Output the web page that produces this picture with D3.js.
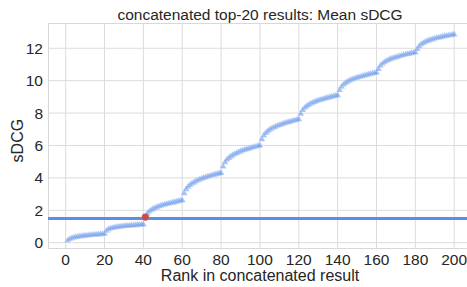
<!DOCTYPE html>
<html>
<head>
<meta charset="utf-8">
<script src="https://cdn.jsdelivr.net/npm/d3@7"></script>
<style>
  body { margin: 0; background: #fff; }
  text { font-family: "Liberation Sans", Arial, sans-serif; fill: #262626; }
</style>
</head>
<body>
<div id="viz"></div>
<script>

/* mean sDCG over the concatenated top-20 lists (10 blocks of 20 ranks) */

const block1 = [0.13, 0.22, 0.27, 0.31, 0.34, 0.36, 0.38, 0.40, 0.42, 0.43, 0.44, 0.46, 0.47, 0.48, 0.49, 0.50, 0.51, 0.52, 0.53, 0.55];
const block2 = [0.74, 0.82, 0.87, 0.90, 0.93, 0.95, 0.97, 0.99, 1.00, 1.02, 1.03, 1.04, 1.05, 1.06, 1.07, 1.08, 1.09, 1.10, 1.11, 1.12];
const block3 = [1.58, 1.80, 1.92, 2.01, 2.08, 2.14, 2.19, 2.24, 2.28, 2.32, 2.35, 2.38, 2.41, 2.44, 2.47, 2.50, 2.53, 2.56, 2.59, 2.62];
const block4 = [3.05, 3.30, 3.45, 3.56, 3.65, 3.72, 3.79, 3.85, 3.90, 3.95, 3.99, 4.03, 4.07, 4.11, 4.14, 4.18, 4.21, 4.24, 4.27, 4.30];
const block5 = [4.70, 4.96, 5.12, 5.23, 5.32, 5.40, 5.47, 5.53, 5.58, 5.63, 5.68, 5.72, 5.76, 5.80, 5.83, 5.87, 5.90, 5.93, 5.97, 6.00];
const block6 = [6.38, 6.62, 6.77, 6.88, 6.97, 7.04, 7.10, 7.16, 7.21, 7.26, 7.30, 7.34, 7.38, 7.42, 7.45, 7.48, 7.52, 7.55, 7.58, 7.62];
const block7 = [7.95, 8.18, 8.32, 8.42, 8.50, 8.57, 8.63, 8.68, 8.73, 8.77, 8.81, 8.85, 8.88, 8.92, 8.95, 8.98, 9.01, 9.04, 9.07, 9.10];
const block8 = [9.42, 9.63, 9.76, 9.86, 9.93, 10.00, 10.05, 10.10, 10.14, 10.18, 10.22, 10.25, 10.29, 10.32, 10.35, 10.38, 10.41, 10.44, 10.47, 10.50];
const block9 = [10.72, 10.92, 11.04, 11.13, 11.21, 11.27, 11.32, 11.37, 11.41, 11.45, 11.48, 11.52, 11.55, 11.58, 11.61, 11.64, 11.66, 11.69, 11.72, 11.75];
const block10 = [11.95, 12.13, 12.24, 12.32, 12.38, 12.44, 12.48, 12.53, 12.56, 12.60, 12.63, 12.66, 12.68, 12.71, 12.74, 12.76, 12.78, 12.80, 12.83, 12.85];

const blocks = [block1, block2, block3, block4, block5, block6, block7, block8, block9, block10];

const threshold = 1.5;          // horizontal reference line
const crossRank = 41;           // first rank above the threshold
const xTicks = [0, 20, 40, 60, 80, 100, 120, 140, 160, 180, 200];
const yTicks = [0, 2, 4, 6, 8, 10, 12];

const title = "concatenated top-20 results: Mean sDCG";
const xLabel = "Rank in concatenated result";
const yLabel = "sDCG";

// flatten blocks into (rank, value) points
const points = [];
blocks.forEach((b, i) => b.forEach((v, j) => points.push({ rank: i * 20 + j + 1, value: v })));

const W = 467, H = 287;
const margin = { top: 23, right: 0, bottom: 38, left: 48 };
const plotW = W - margin.left - margin.right;
const plotH = H - margin.top - margin.bottom;

const svg = d3.select("#viz").append("svg")
    .attr("width", W)
    .attr("height", H);

// plot area runs past the right edge of the picture (cropped figure)
const x = d3.scaleLinear([-9.1, 206.6], [margin.left, W]);
const y = d3.scaleLinear([-0.39, 13.56], [H - margin.bottom, margin.top]);

const g = svg.append("g");

// grid
g.selectAll(".gx").data(xTicks).join("line")
    .attr("x1", d => x(d)).attr("x2", d => x(d))
    .attr("y1", margin.top).attr("y2", H - margin.bottom)
    .attr("stroke", "#dcdcdc").attr("stroke-width", 1);

g.selectAll(".gy").data(yTicks).join("line")
    .attr("x1", margin.left).attr("x2", W)
    .attr("y1", d => y(d)).attr("y2", d => y(d))
    .attr("stroke", "#dcdcdc").attr("stroke-width", 1);

// frame
g.append("rect")
    .attr("x", margin.left + 0.5).attr("y", margin.top + 0.5)
    .attr("width", plotW + 10).attr("height", plotH - 1)
    .attr("fill", "none").attr("stroke", "#d8d8d8").attr("stroke-width", 1);

// threshold line
g.append("line")
    .attr("x1", margin.left).attr("x2", W)
    .attr("y1", y(threshold)).attr("y2", y(threshold))
    .attr("stroke", "#5b8ee5").attr("stroke-width", 3);

// triangle markers
const tri = d3.symbol().type(d3.symbolTriangle).size(20);
g.selectAll(".pt").data(points).join("path")
    .attr("d", tri)
    .attr("transform", d => `translate(${x(d.rank)},${y(d.value)})`)
    .attr("fill", "#6495ed").attr("fill-opacity", 0.6)
    .attr("stroke", "#ffffff").attr("stroke-width", 0.4).attr("stroke-opacity", 0.6);

// crossing point
const cross = points.find(p => p.rank === crossRank);
g.append("circle")
    .attr("cx", x(cross.rank)).attr("cy", y(cross.value))
    .attr("r", 3.6)
    .attr("fill", "#c44e52");

// tick labels
svg.selectAll(".xt").data(xTicks).join("text")
    .attr("x", d => x(d)).attr("y", 265)
    .attr("text-anchor", "middle")
    .attr("font-size", 15.5)
    .text(d => d);

svg.selectAll(".yt").data(yTicks).join("text")
    .attr("x", 43).attr("y", d => y(d) + 5.5)
    .attr("text-anchor", "end")
    .attr("font-size", 15.5)
    .text(d => d);

// labels
svg.append("text")
    .attr("x", 260).attr("y", 19.5)
    .attr("text-anchor", "middle")
    .attr("font-size", 15.5)
    .text(title);

svg.append("text")
    .attr("x", 260).attr("y", 281)
    .attr("text-anchor", "middle")
    .attr("font-size", 16)
    .text(xLabel);

svg.append("text")
    .attr("transform", `translate(23,${y(6.3)}) rotate(-90)`)
    .attr("text-anchor", "middle")
    .attr("font-size", 16)
    .text(yLabel);

</script>
</body>
</html>
